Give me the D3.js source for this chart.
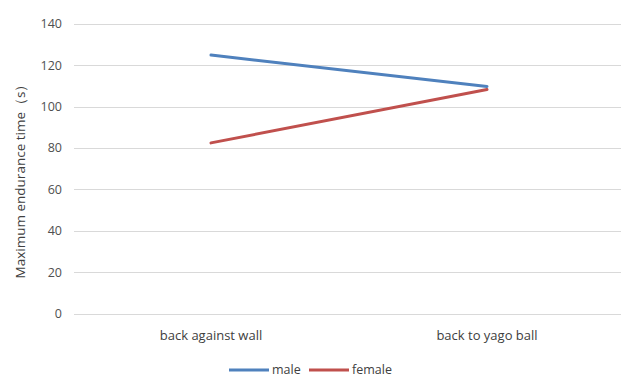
<!DOCTYPE html>
<html><head><meta charset="utf-8">
<script src="https://cdn.jsdelivr.net/npm/d3@7"></script>
<style>body{margin:0;background:#fff}svg{display:block}text{font-family:"Open Sans","Noto Sans",sans-serif;fill:#404040}</style>
</head><body><svg id="c" width="622" height="379"></svg>
<script>
const categories = ["back against wall", "back to yago ball"];
const seriesNames = ["male", "female"];
const maleValues = [125, 109.8];
const femaleValues = [82.5, 108.3];
const yTicks = [0, 20, 40, 60, 80, 100, 120, 140];
const colors = ["#4F81BD", "#C0504D"];
const yTitle = "Maximum endurance time（s）";

const svg = d3.select("#c");
const x = d3.scaleBand().domain(categories).range([73, 625]);
const y = d3.scaleLinear().domain([0, 140]).range([313.5, 24]);

svg.append("g").selectAll("line").data(yTicks).join("line")
  .attr("x1", 74).attr("x2", 621)
  .attr("y1", d => Math.round(y(d)) + 0.5).attr("y2", d => Math.round(y(d)) + 0.5)
  .attr("stroke", "#D9D9D9").attr("stroke-width", 1);

svg.append("g").selectAll("text").data(yTicks).join("text")
  .attr("x", 62).attr("y", d => y(d)).attr("dy", "0.35em")
  .attr("text-anchor", "end").attr("font-size", 12.5).style("fill", "#505050")
  .text(d => d);

svg.append("g").selectAll("text").data(categories).join("text")
  .attr("x", d => x(d) + x.bandwidth() / 2).attr("y", 335).attr("dy", "0.35em")
  .attr("text-anchor", "middle").attr("font-size", 13).style("fill", "#404040")
  .text(d => d);

svg.append("text")
  .attr("transform", "translate(20,178) rotate(-90)")
  .attr("text-anchor", "middle").attr("dy", "0.35em").attr("font-size", 13.5).style("fill", "#404040")
  .text(yTitle);

const series = [maleValues, femaleValues];
const line = d3.line().x((d, i) => x(categories[i]) + x.bandwidth() / 2).y(d => y(d));
svg.append("g").selectAll("path").data(series).join("path")
  .attr("d", d => line(d)).attr("fill", "none")
  .attr("stroke", (d, i) => colors[i]).attr("stroke-width", 3).attr("stroke-linecap", "round");

const legendX = [229, 309];
const lg = svg.append("g").selectAll("g").data(seriesNames).join("g")
  .attr("transform", (d, i) => `translate(${legendX[i]},370)`);
lg.append("line").attr("x1", 0).attr("x2", 40).attr("y1", 0).attr("y2", 0)
  .attr("stroke", (d, i) => colors[i]).attr("stroke-width", 3);
lg.append("text").attr("x", 43).attr("dy", "0.35em").attr("font-size", 12.5).style("fill", "#404040").text(d => d);
</script></body></html>
